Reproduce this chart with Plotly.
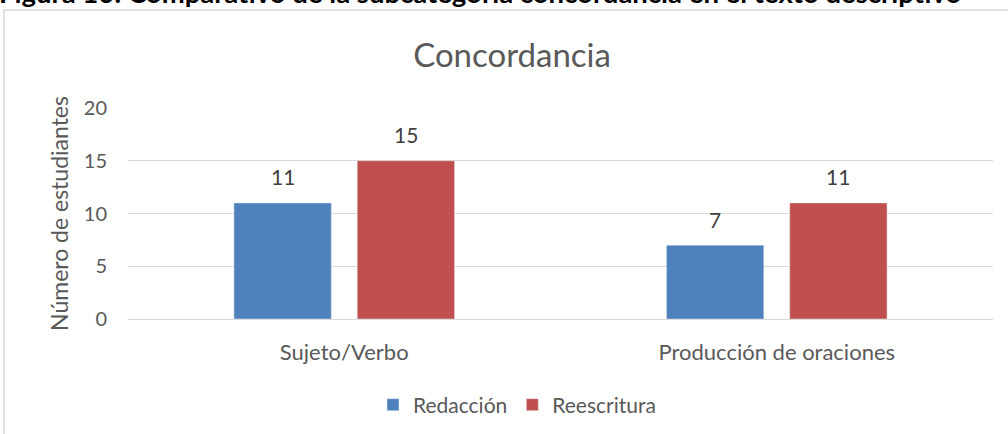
import plotly.graph_objects as go

categories = ["Sujeto/Verbo", "Producción de oraciones"]
redaccion = [11, 7]
reescritura = [15, 11]
series_names = ["Redacción", "Reescritura"]
y_ticks = [0, 5, 10, 15, 20]

W, H = 1008, 434
L, R, T, B = 128, 15, 108, 115
pw, ph = W - L - R, H - T - B

def px_x(p):
    return (p - L) / pw

def px_y(p):
    return (H - B - p) / ph

FONT = "Lato"
GREY = "#595959"
BARGAP, GROUPGAP = 0.43, 0.21
slot_px = pw / len(categories) * (1 - BARGAP) / 2

fig = go.Figure()
fig.add_trace(go.Bar(x=categories, y=redaccion, name=series_names[0], marker_color="#4f81bd"))
fig.add_trace(go.Bar(x=categories, y=reescritura, name=series_names[1], marker_color="#c0504d"))

for series, shift in ((redaccion, -slot_px / 2), (reescritura, slot_px / 2)):
    for cat, val in zip(categories, series):
        fig.add_annotation(x=cat, y=val, xref="x", yref="y", text=str(val), showarrow=False,
                           xshift=shift, yshift=26, yanchor="middle", borderpad=0,
                           font=dict(size=21, color="#404040", family=FONT))

fig.update_layout(
    width=W, height=H,
    margin=dict(l=L, r=R, t=T, b=B, autoexpand=False),
    paper_bgcolor="white", plot_bgcolor="white",
    font=dict(family=FONT, color=GREY),
    barmode="group", bargap=BARGAP, bargroupgap=GROUPGAP,
    title=dict(text="Concordancia", x=0.508, xanchor="center", y=1 - 55 / H, yanchor="middle",
               font=dict(size=33, color=GREY, family=FONT)),
    showlegend=True,
    legend=dict(orientation="h", x=px_x(517), xanchor="center", y=px_y(405), yanchor="middle",
                font=dict(size=21, color=GREY, family=FONT), traceorder="normal",
                itemwidth=30),
    yaxis=dict(range=[0, 20], tickvals=y_ticks, showgrid=True, gridcolor="#d9d9d9", gridwidth=1,
               zeroline=True, zerolinecolor="#d9d9d9", zerolinewidth=1,
               tickfont=dict(size=20, color=GREY), ticks="", ticklabelstandoff=20,
               automargin=False,
               title=dict(text="Número de estudiantes", font=dict(size=23, color=GREY), standoff=8)),
    xaxis=dict(tickfont=dict(size=22, color=GREY), ticks="", showline=False,
               ticklabelstandoff=18, automargin=False),
)

fig.add_shape(type="rect", xref="paper", yref="paper",
              x0=px_x(4), x1=px_x(1030), y0=px_y(450), y1=px_y(10),
              line=dict(color="#d9d9d9", width=1.5), fillcolor="rgba(0,0,0,0)", layer="below")

fig.add_annotation(xref="paper", yref="paper", x=px_x(-2), y=px_y(-8), xanchor="left", yanchor="middle",
                   text="<b>Figura 10: Comparativo de la subcategoría concordancia en el texto descriptivo</b>",
                   showarrow=False, borderpad=0,
                   font=dict(size=27.5, color="black", family=FONT))

fig.write_html("out.html", config={"displayModeBar": False},
               post_script="document.body.style.margin='0';")
